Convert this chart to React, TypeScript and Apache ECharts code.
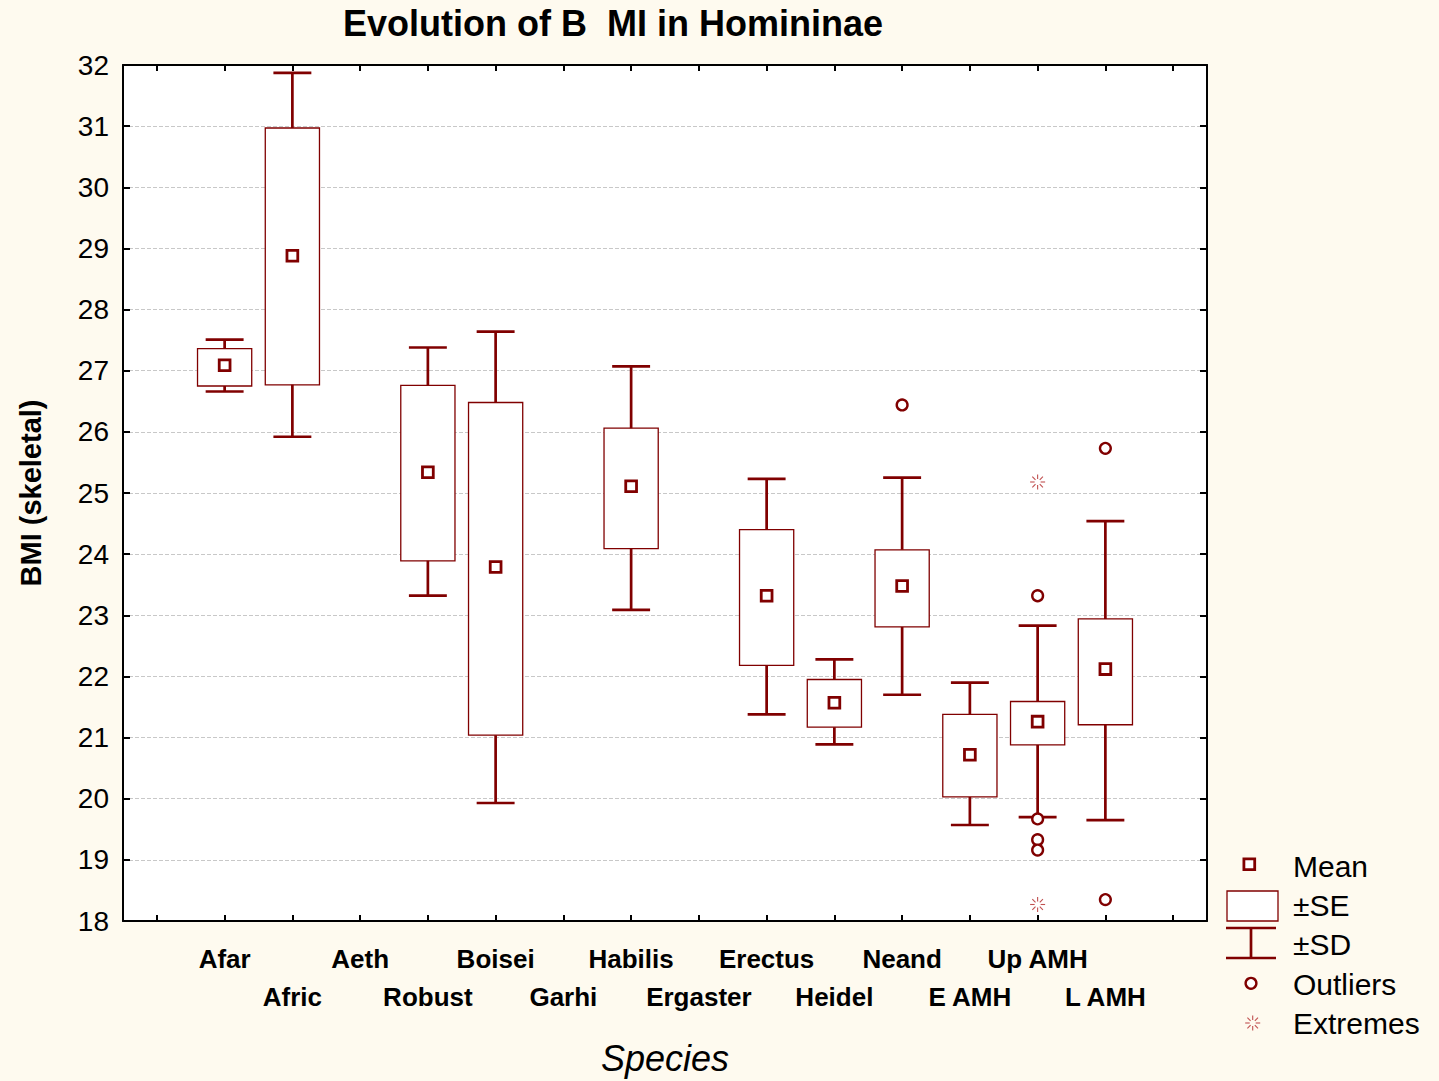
import React, { useEffect, useRef } from 'react';
import * as echarts from 'echarts';

const categories = ['', 'Afar', 'Afric', 'Aeth', 'Robust', 'Boisei', 'Garhi', 'Habilis', 'Ergaster', 'Erectus', 'Heidel', 'Neand', 'E AMH', 'Up AMH', 'L AMH', ''];
const sdHigh = [null, 27.51, 31.87, null, 27.38, 27.64, null, 27.07, null, 25.23, 22.28, 25.25, 21.9, 22.83, 24.54, null];
const seHigh = [null, 27.36, 30.97, null, 26.76, 26.48, null, 26.06, null, 24.4, 21.95, 24.07, 21.38, 21.59, 22.94, null];
const means = [null, 27.09, 28.88, null, 25.34, 23.79, null, 25.11, null, 23.32, 21.57, 23.48, 20.72, 21.26, 22.12, null];
const seLow = [null, 26.75, 26.77, null, 23.89, 21.04, null, 24.09, null, 22.18, 21.17, 22.81, 20.03, 20.88, 21.21, null];
const sdLow = [null, 26.66, 25.92, null, 23.32, 19.93, null, 23.09, null, 21.38, 20.89, 21.7, 19.57, 19.7, 19.65, null];

const outlierCats = ['Neand', 'Up AMH', 'Up AMH', 'Up AMH', 'Up AMH', 'L AMH', 'L AMH'];
const outlierValues = [26.44, 23.32, 19.67, 19.33, 19.16, 25.73, 18.35];
const extremeCats = ['Up AMH', 'Up AMH'];
const extremeValues = [25.18, 18.27];

const yTicks = { min: 18, max: 32, interval: 1 };
const legendLabels = ['Mean', '\u00B1SE', '\u00B1SD', 'Outliers', 'Extremes'];

const RED = '#800000';
const LIGHT_RED = '#c05050';
const FONT = '"Liberation Sans", Arial, sans-serif';

function starLines(cx: number, cy: number, color: string) {
  const out: any[] = [];
  for (let k = 0; k < 8; k++) {
    const a = (Math.PI / 4) * k;
    out.push({
      type: 'line',
      shape: { x1: cx + Math.cos(a) * 3, y1: cy + Math.sin(a) * 3, x2: cx + Math.cos(a) * 7.5, y2: cy + Math.sin(a) * 7.5 },
      style: { stroke: color, lineWidth: 1.1 },
    });
  }
  return out;
}

export default function App() {
  const ref = useRef<HTMLDivElement>(null);
  useEffect(() => {
    if (!ref.current) return;
    const chart = echarts.init(ref.current, undefined, { renderer: 'svg' });
    const boxData = categories
      .map((c, i) => (means[i] == null ? null : [i, sdLow[i], seLow[i], means[i], seHigh[i], sdHigh[i]]))
      .filter((d) => d !== null);
    const outlierData = outlierCats.map((c, i) => [categories.indexOf(c), outlierValues[i]]);
    const extremeData = extremeCats.map((c, i) => [categories.indexOf(c), extremeValues[i]]);

    const legendX = 1293;
    const legendYs = [866, 905, 944, 984, 1023];

    const option: any = {
      animation: false,
      backgroundColor: 'transparent',
      textStyle: { fontFamily: FONT },
      title: {
        text: 'Evolution of B  MI in Homininae',
        left: 343,
        top: 5,
        padding: 0,
        textStyle: { fontFamily: FONT, fontSize: 36, fontWeight: 'bold', color: '#000' },
      },
      grid: { left: 123, right: 232, top: 65, bottom: 158, show: true, backgroundColor: '#fff', borderWidth: 0 },
      xAxis: [
        {
          type: 'category',
          data: categories,
          position: 'bottom',
          boundaryGap: true,
          name: 'Species',
          nameLocation: 'middle',
          nameGap: 119,
          nameTextStyle: { fontFamily: FONT, fontSize: 36, fontStyle: 'italic', color: '#000' },
          axisLine: { show: true, lineStyle: { color: '#000', width: 2 } },
          axisTick: { show: true, inside: true, length: 6, alignWithLabel: true, interval: 0, lineStyle: { color: '#000', width: 2 } },
          axisLabel: {
            interval: 0,
            margin: 19,
            fontFamily: FONT,
            fontSize: 26,
            fontWeight: 'bold',
            color: '#000',
            lineHeight: 38,
            formatter: (v: string, i: number) => (i % 2 === 1 ? v : '\n' + v),
          },
          splitLine: { show: false },
        },
        {
          type: 'category',
          data: categories,
          position: 'top',
          boundaryGap: true,
          axisLine: { show: true, lineStyle: { color: '#000', width: 2 } },
          axisTick: { show: true, inside: true, length: 6, alignWithLabel: true, interval: 0, lineStyle: { color: '#000', width: 2 } },
          axisLabel: { show: false },
          splitLine: { show: false },
        },
      ],
      yAxis: [
        {
          type: 'value',
          min: yTicks.min,
          max: yTicks.max,
          interval: yTicks.interval,
          position: 'left',
          name: 'BMI (skeletal)',
          nameLocation: 'middle',
          nameGap: 78,
          nameTextStyle: { fontFamily: FONT, fontSize: 29, fontWeight: 'bold', color: '#000' },
          axisLine: { show: true, lineStyle: { color: '#000', width: 2 } },
          axisTick: { show: true, inside: true, length: 7, lineStyle: { color: '#000', width: 2 } },
          axisLabel: { margin: 14, fontFamily: FONT, fontSize: 28, color: '#000' },
          splitLine: { show: true, lineStyle: { color: '#c8c8c8', width: 1, type: [4, 2] } },
        },
        {
          type: 'value',
          min: yTicks.min,
          max: yTicks.max,
          interval: yTicks.interval,
          position: 'right',
          axisLine: { show: true, lineStyle: { color: '#000', width: 2 } },
          axisTick: { show: true, inside: true, length: 7, lineStyle: { color: '#000', width: 2 } },
          axisLabel: { show: false },
          splitLine: { show: false },
        },
      ],
      series: [
        {
          type: 'custom',
          name: 'Box',
          xAxisIndex: 0,
          yAxisIndex: 0,
          data: boxData,
          encode: { x: 0, y: [1, 2, 3, 4, 5] },
          z: 3,
          renderItem: (params: any, api: any) => {
            const idx = api.value(0);
            const band = api.size([1, 0])[0];
            const x = api.coord([idx, api.value(3)])[0];
            const yv = (k: number) => api.coord([idx, api.value(k)])[1];
            const ySdLow = yv(1), ySeLow = yv(2), yMean = yv(3), ySeHigh = yv(4), ySdHigh = yv(5);
            const bw = band * 0.8;
            const cw = band * 0.56;
            const ls = { stroke: RED, lineWidth: 2.7 };
            return {
              type: 'group',
              children: [
                { type: 'line', shape: { x1: x, y1: ySdHigh, x2: x, y2: ySdLow }, style: ls },
                { type: 'line', shape: { x1: x - cw / 2, y1: ySdHigh, x2: x + cw / 2, y2: ySdHigh }, style: ls },
                { type: 'line', shape: { x1: x - cw / 2, y1: ySdLow, x2: x + cw / 2, y2: ySdLow }, style: ls },
                { type: 'rect', shape: { x: x - bw / 2, y: ySeHigh, width: bw, height: ySeLow - ySeHigh }, style: { fill: '#fff', stroke: RED, lineWidth: 1.3 } },
                { type: 'rect', shape: { x: x - 5.4, y: yMean - 5.4, width: 10.8, height: 10.8 }, style: { fill: '#fff', stroke: RED, lineWidth: 2.8 } },
              ],
            };
          },
        },
        {
          type: 'scatter',
          name: 'Outliers',
          xAxisIndex: 0,
          yAxisIndex: 0,
          data: outlierData,
          symbol: 'circle',
          symbolSize: 10.8,
          z: 5,
          itemStyle: { color: '#fff', borderColor: RED, borderWidth: 2.4, opacity: 1 },
        },
        {
          type: 'custom',
          name: 'Extremes',
          xAxisIndex: 0,
          yAxisIndex: 0,
          data: extremeData,
          encode: { x: 0, y: 1 },
          z: 5,
          renderItem: (params: any, api: any) => {
            const p = api.coord([api.value(0), api.value(1)]);
            return { type: 'group', children: starLines(p[0], p[1], LIGHT_RED) };
          },
        },
      ],
      graphic: [
        { type: 'rect', shape: { x: 1249.3 - 5.4, y: 864.3 - 5.4, width: 10.8, height: 10.8 }, style: { fill: '#fff', stroke: RED, lineWidth: 2.8 } },
        { type: 'rect', shape: { x: 1227, y: 891, width: 51, height: 30 }, style: { fill: '#fff', stroke: RED, lineWidth: 1.3 } },
        { type: 'line', shape: { x1: 1226, y1: 928, x2: 1276, y2: 928 }, style: { stroke: RED, lineWidth: 2.7 } },
        { type: 'line', shape: { x1: 1251, y1: 928, x2: 1251, y2: 958 }, style: { stroke: RED, lineWidth: 2.7 } },
        { type: 'line', shape: { x1: 1226, y1: 958, x2: 1276, y2: 958 }, style: { stroke: RED, lineWidth: 2.7 } },
        { type: 'circle', shape: { cx: 1251, cy: 983.3, r: 5.4 }, style: { fill: '#fff', stroke: RED, lineWidth: 2.4 } },
        { type: 'group', children: starLines(1252.7, 1023, LIGHT_RED) },
        ...legendLabels.map((t, i) => ({
          type: 'text',
          x: legendX,
          y: legendYs[i],
          style: { text: t, fontFamily: FONT, fontSize: 30, fill: '#000', textVerticalAlign: 'middle', verticalAlign: 'middle', align: 'left' },
        })),
      ],
    };
    chart.setOption(option);
    return () => chart.dispose();
  }, []);
  return (
    <div style={{ position: 'fixed', left: 0, top: 0, width: 1439, height: 1081, background: '#FEFAEF' }}>
      <div ref={ref} style={{ width: 1439, height: 1081 }} />
    </div>
  );
}
